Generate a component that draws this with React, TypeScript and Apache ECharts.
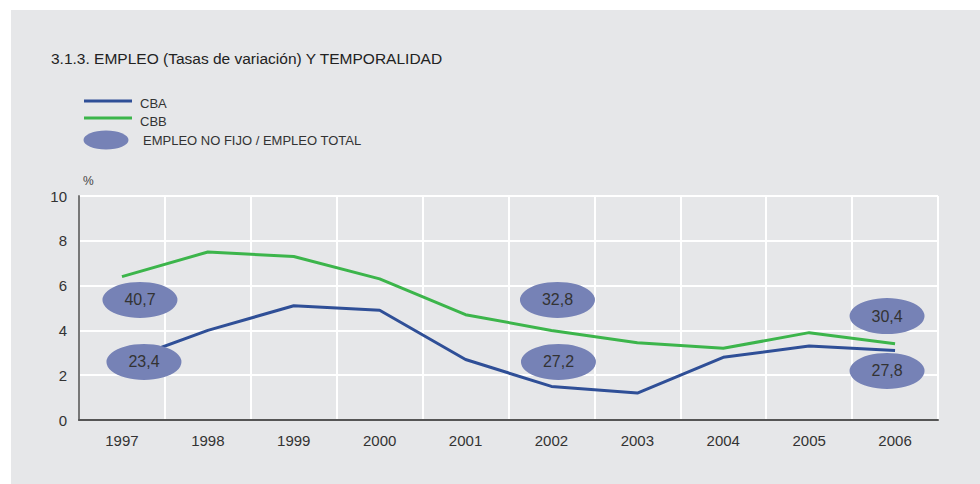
import React, { useEffect, useRef } from "react";
import * as echarts from "echarts";

const years = ["1997", "1998", "1999", "2000", "2001", "2002", "2003", "2004", "2005", "2006"];
const cba = [2.6, 4.0, 5.1, 4.9, 2.7, 1.5, 1.2, 2.8, 3.3, 3.1];
const cbb = [6.4, 7.5, 7.3, 6.3, 4.7, 4.0, 3.45, 3.2, 3.9, 3.4];
const yTicks = { min: 0, max: 10, interval: 2 };

// Temporalidad (empleo no fijo / empleo total), shown in ellipses
const tempYears = ["1997", "1997", "2002", "2002", "2006", "2006"];
const tempValues = [40.7, 23.4, 32.8, 27.2, 30.4, 27.8];
const tempLevels = [5.36, 2.59, 5.36, 2.59, 4.64, 2.19];
const tempOffsetX = [18, 22, 6, 7, -8, -8];

const BLUE = "#2f4f97";
const GREEN = "#3cb54b";
const ELLIPSE = "#7682b6";
const FONT = "'Liberation Sans', Arial, Helvetica, sans-serif";

export default function App() {
  const ref = useRef<HTMLDivElement>(null);
  useEffect(() => {
    if (!ref.current) return;
    const chart = echarts.init(ref.current, null, { renderer: "svg" });
    const option: any = {
      animation: false,
      backgroundColor: "#ffffff",
      textStyle: { fontFamily: FONT },
      graphic: [
        { type: "rect", z: -10, shape: { x: 11, y: 10, width: 969, height: 474 }, style: { fill: "#e6e7e9" } },
        { type: "text", x: 51, y: 58, style: { text: "3.1.3. EMPLEO (Tasas de variación) Y TEMPORALIDAD", fill: "#222", font: `15.5px ${FONT}`, verticalAlign: "middle" } },
        { type: "line", shape: { x1: 84, y1: 101, x2: 132, y2: 101 }, style: { stroke: BLUE, lineWidth: 3 } },
        { type: "text", x: 140, y: 103, style: { text: "CBA", fill: "#333", font: `13px ${FONT}`, verticalAlign: "middle" } },
        { type: "line", shape: { x1: 84, y1: 118, x2: 132, y2: 118 }, style: { stroke: GREEN, lineWidth: 3 } },
        { type: "text", x: 140, y: 121, style: { text: "CBB", fill: "#333", font: `13px ${FONT}`, verticalAlign: "middle" } },
        { type: "ellipse", shape: { cx: 106, cy: 140, rx: 22.5, ry: 9.5 }, style: { fill: ELLIPSE } },
        { type: "text", x: 143, y: 140, style: { text: "EMPLEO NO FIJO / EMPLEO TOTAL", fill: "#333", font: `13px ${FONT}`, verticalAlign: "middle" } },
        { type: "text", x: 83, y: 181, style: { text: "%", fill: "#444", font: `12px ${FONT}`, verticalAlign: "middle" } },
      ],
      grid: { left: 79, top: 196, right: 42, bottom: 64 },
      xAxis: {
        type: "category",
        data: years,
        boundaryGap: true,
        axisLine: { lineStyle: { color: "#555", width: 2 } },
        axisTick: { show: false },
        axisLabel: { color: "#333", fontSize: 15, margin: 13, fontFamily: FONT },
        splitLine: { show: true, interval: 0, lineStyle: { color: "#ffffff", width: 2 } },
      },
      yAxis: {
        type: "value",
        min: yTicks.min,
        max: yTicks.max,
        interval: yTicks.interval,
        axisLine: { show: true, lineStyle: { color: "#777", width: 2 } },
        axisTick: { show: false },
        axisLabel: { color: "#333", fontSize: 15, margin: 12, fontFamily: FONT },
        splitLine: { show: true, lineStyle: { color: "#ffffff", width: 2 } },
      },
      series: [
        { name: "CBA", type: "line", data: cba, symbol: "none", lineStyle: { color: BLUE, width: 3 }, z: 3 },
        { name: "CBB", type: "line", data: cbb, symbol: "none", lineStyle: { color: GREEN, width: 3 }, z: 3 },
        {
          name: "EMPLEO NO FIJO / EMPLEO TOTAL",
          type: "scatter",
          z: 5,
          symbol: "circle",
          symbolSize: [75, 36],
          itemStyle: { color: ELLIPSE, opacity: 1 },
          data: tempYears.map((y, i) => ({
            value: [y, tempLevels[i], tempValues[i]],
            symbolOffset: [tempOffsetX[i], 0],
            label: {
              show: true,
              position: "inside",
              formatter: () => tempValues[i].toFixed(1).replace(".", ","),
              color: "#333",
              fontSize: 16,
              fontFamily: FONT,
            },
          })),
        },
      ],
    };
    chart.setOption(option);
    return () => chart.dispose();
  }, []);
  return <div ref={ref} style={{ position: "absolute", left: 0, top: 0, width: 980, height: 484 }} />;
}
